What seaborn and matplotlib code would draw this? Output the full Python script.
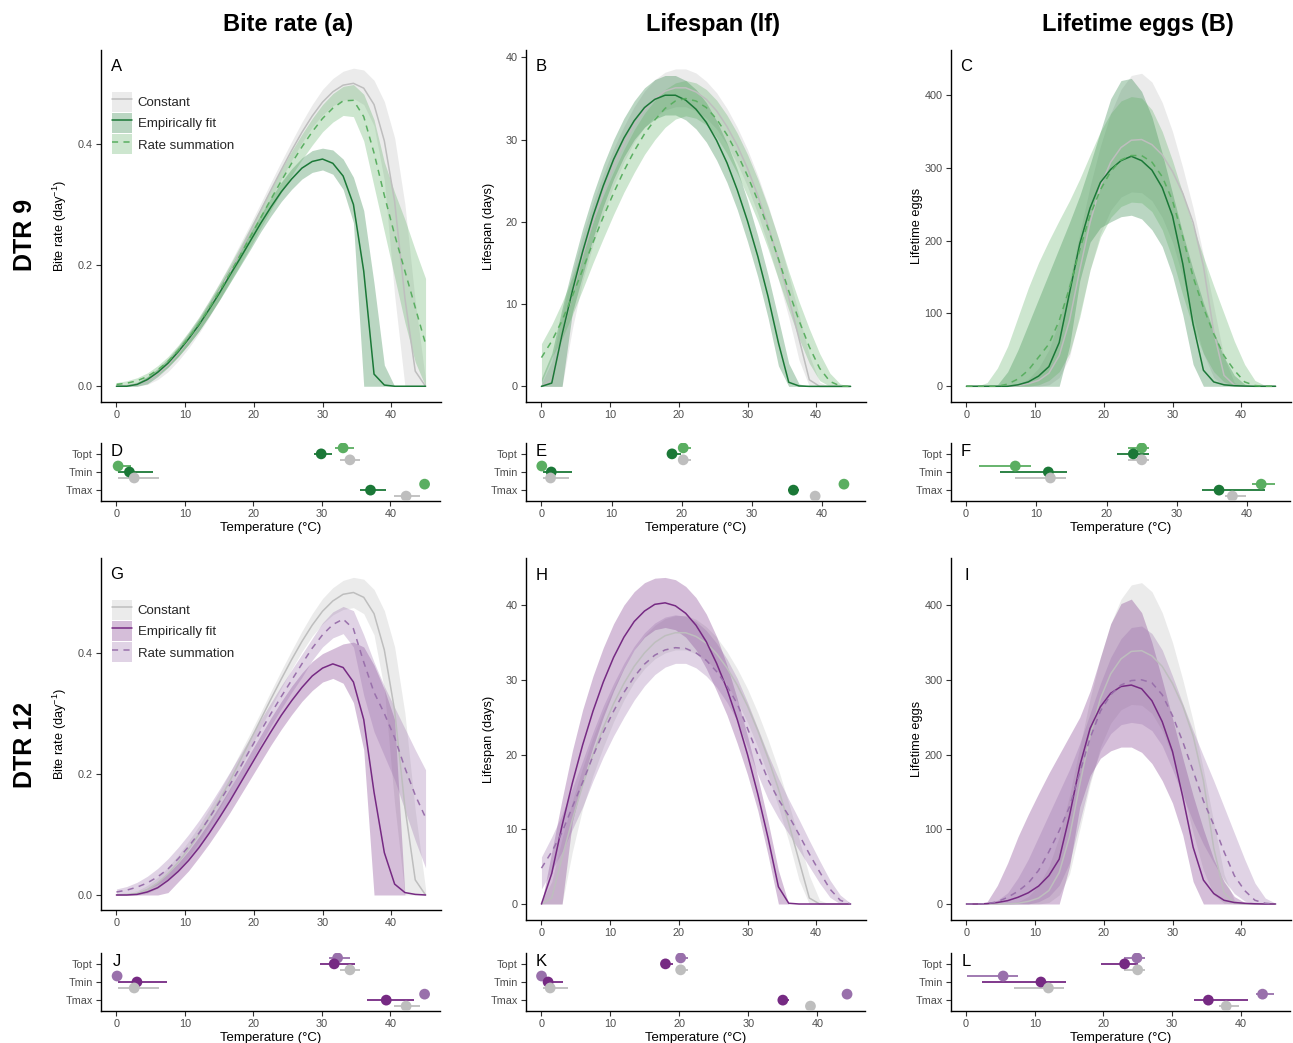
import numpy as np
import pandas as pd
import matplotlib
matplotlib.use("Agg")
import matplotlib.pyplot as plt
import matplotlib.transforms as mtransforms
from matplotlib.patches import Patch
from matplotlib.lines import Line2D
from matplotlib.legend_handler import HandlerTuple
import seaborn as sns

# ---------------- data ----------------
temps = [0, 1.5, 3, 4.5, 6, 7.5, 9, 10.5, 12, 13.5, 15, 16.5, 18, 19.5, 21, 22.5,
         24, 25.5, 27, 28.5, 30, 31.5, 33, 34.5, 36, 37.5, 39, 40.5, 42, 43.5, 45]

# Bite rate - constant temperature (shared by both DTR rows)
bite_const = [0, 0.001, 0.003, 0.009, 0.020, 0.035, 0.054, 0.076, 0.100, 0.128, 0.157, 0.188, 0.222, 0.256, 0.290, 0.324, 0.357, 0.389, 0.419, 0.446, 0.469, 0.486, 0.497, 0.500, 0.492, 0.465, 0.405, 0.305, 0.145, 0.025, 0.0]
bite_const_hi = [0.001, 0.003, 0.007, 0.016, 0.029, 0.046, 0.066, 0.089, 0.114, 0.142, 0.171, 0.202, 0.235, 0.268, 0.302, 0.337, 0.371, 0.404, 0.436, 0.465, 0.490, 0.508, 0.520, 0.525, 0.522, 0.505, 0.470, 0.410, 0.300, 0.140, 0.010]
bite_const_lo = [0, 0, 0, 0.003, 0.011, 0.024, 0.042, 0.063, 0.087, 0.114, 0.143, 0.174, 0.208, 0.242, 0.276, 0.310, 0.342, 0.373, 0.402, 0.428, 0.448, 0.463, 0.472, 0.475, 0.465, 0.430, 0.340, 0.150, 0, 0, 0]
# Bite rate DTR 9
bite_emp9 = [0, 0, 0.003, 0.011, 0.023, 0.038, 0.057, 0.078, 0.101, 0.127, 0.154, 0.183, 0.211, 0.240, 0.269, 0.296, 0.321, 0.342, 0.360, 0.371, 0.375, 0.368, 0.347, 0.300, 0.190, 0.020, 0.002, 0, 0, 0, 0]
bite_emp9_hi = [0.001, 0.002, 0.006, 0.016, 0.029, 0.045, 0.065, 0.087, 0.111, 0.138, 0.166, 0.195, 0.224, 0.254, 0.283, 0.311, 0.337, 0.359, 0.377, 0.389, 0.393, 0.390, 0.375, 0.345, 0.290, 0.170, 0.035, 0, 0, 0, 0]
bite_emp9_lo = [0, 0, 0, 0.004, 0.016, 0.031, 0.049, 0.069, 0.091, 0.116, 0.142, 0.170, 0.198, 0.226, 0.255, 0.281, 0.305, 0.325, 0.342, 0.353, 0.357, 0.350, 0.325, 0.270, 0, 0, 0, 0, 0, 0, 0]
bite_rs9 = [0.003, 0.005, 0.009, 0.016, 0.027, 0.041, 0.059, 0.080, 0.103, 0.129, 0.157, 0.186, 0.216, 0.247, 0.278, 0.309, 0.339, 0.368, 0.395, 0.420, 0.442, 0.459, 0.471, 0.472, 0.445, 0.385, 0.315, 0.250, 0.190, 0.130, 0.070]
bite_rs9_hi = [0.006, 0.009, 0.014, 0.022, 0.034, 0.049, 0.068, 0.090, 0.114, 0.141, 0.170, 0.200, 0.231, 0.263, 0.295, 0.327, 0.358, 0.388, 0.416, 0.442, 0.465, 0.483, 0.495, 0.498, 0.482, 0.440, 0.370, 0.320, 0.275, 0.225, 0.178]
bite_rs9_lo = [0.001, 0.002, 0.005, 0.010, 0.019, 0.032, 0.049, 0.069, 0.091, 0.116, 0.143, 0.171, 0.200, 0.230, 0.261, 0.291, 0.320, 0.348, 0.374, 0.398, 0.420, 0.436, 0.447, 0.445, 0.405, 0.330, 0.255, 0.180, 0.105, 0.040, 0.0]
# Bite rate DTR 12
bite_emp12 = [0, 0, 0.001, 0.005, 0.012, 0.024, 0.039, 0.057, 0.078, 0.102, 0.128, 0.155, 0.184, 0.213, 0.242, 0.270, 0.297, 0.321, 0.343, 0.362, 0.375, 0.382, 0.376, 0.352, 0.290, 0.170, 0.070, 0.018, 0.004, 0.001, 0]
bite_emp12_hi = [0.001, 0.002, 0.004, 0.011, 0.022, 0.036, 0.053, 0.073, 0.096, 0.121, 0.148, 0.176, 0.205, 0.235, 0.264, 0.293, 0.320, 0.345, 0.367, 0.386, 0.399, 0.407, 0.415, 0.418, 0.410, 0.380, 0.340, 0.290, 0, 0, 0]
bite_emp12_lo = [0, 0, 0, 0, 0, 0.004, 0.022, 0.040, 0.062, 0.085, 0.110, 0.136, 0.164, 0.192, 0.220, 0.248, 0.274, 0.298, 0.320, 0.338, 0.352, 0.358, 0.350, 0.318, 0.240, 0, 0, 0, 0, 0, 0]
bite_rs12 = [0.005, 0.008, 0.013, 0.020, 0.030, 0.043, 0.060, 0.080, 0.102, 0.127, 0.154, 0.182, 0.211, 0.241, 0.271, 0.300, 0.328, 0.355, 0.382, 0.408, 0.430, 0.447, 0.456, 0.440, 0.385, 0.335, 0.300, 0.260, 0.210, 0.165, 0.128]
bite_rs12_hi = [0.010, 0.014, 0.021, 0.031, 0.044, 0.060, 0.079, 0.100, 0.123, 0.148, 0.175, 0.203, 0.232, 0.261, 0.290, 0.318, 0.346, 0.372, 0.398, 0.424, 0.450, 0.468, 0.477, 0.470, 0.430, 0.385, 0.345, 0.310, 0.275, 0.240, 0.207]
bite_rs12_lo = [0.001, 0.003, 0.006, 0.010, 0.017, 0.027, 0.041, 0.058, 0.079, 0.103, 0.130, 0.158, 0.188, 0.218, 0.249, 0.280, 0.308, 0.335, 0.360, 0.388, 0.410, 0.425, 0.432, 0.410, 0.330, 0.270, 0.230, 0.190, 0.140, 0.090, 0.045]

# Lifespan - constant
life_const = [0, 0.8, 6.2, 11.3, 15.9, 20.0, 23.6, 26.8, 29.5, 31.8, 33.6, 35.0, 35.9, 36.3, 36.3, 35.8, 34.9, 33.5, 31.6, 29.3, 26.5, 23.2, 19.5, 15.4, 10.8, 5.8, 0.8, 0, 0, 0, 0]
life_const_hi = [0.3, 3.0, 8.8, 13.8, 18.3, 22.3, 25.8, 28.9, 31.6, 34.0, 35.9, 37.3, 38.2, 38.6, 38.6, 38.1, 37.1, 35.7, 33.8, 31.5, 28.8, 25.6, 22.0, 18.0, 13.5, 8.7, 3.8, 0.5, 0, 0, 0]
life_const_lo = [0, 0, 0, 7.0, 12.8, 17.2, 21.0, 24.4, 27.3, 29.7, 31.5, 32.8, 33.6, 34.0, 34.0, 33.5, 32.6, 31.3, 29.4, 27.1, 24.3, 21.0, 17.2, 13.0, 8.4, 3.2, 0, 0, 0, 0, 0]
# Lifespan DTR 9
life_emp9 = [0, 0.4, 6.3, 11.6, 16.4, 20.7, 24.4, 27.6, 30.2, 32.3, 33.9, 34.9, 35.4, 35.4, 34.8, 33.7, 32.1, 29.9, 27.2, 23.9, 20.1, 15.8, 10.9, 5.3, 0.5, 0.05, 0, 0, 0, 0, 0]
life_emp9_hi = [1.0, 4.0, 9.5, 14.5, 19.2, 23.3, 26.9, 30.0, 32.6, 34.7, 36.3, 37.3, 37.8, 37.8, 37.2, 36.1, 34.5, 32.3, 29.6, 26.4, 22.6, 18.3, 13.5, 8.2, 2.8, 0.3, 0, 0, 0, 0, 0]
life_emp9_lo = [0, 0, 0, 9.0, 13.5, 18.0, 21.9, 25.2, 27.9, 30.0, 31.5, 32.5, 33.0, 33.0, 32.4, 31.3, 29.7, 27.5, 24.8, 21.5, 17.6, 13.3, 8.3, 2.5, 0, 0, 0, 0, 0, 0, 0]
life_rs9 = [3.5, 5.5, 8.0, 11.0, 14.2, 17.5, 20.6, 23.5, 26.2, 28.6, 30.7, 32.4, 33.8, 34.7, 35.0, 34.7, 33.9, 32.5, 30.6, 28.3, 25.6, 22.6, 19.2, 15.5, 11.6, 8.0, 4.8, 2.2, 0.6, 0.05, 0]
life_rs9_hi = [5.2, 7.5, 10.2, 13.3, 16.6, 20.0, 23.2, 26.1, 28.8, 31.2, 33.2, 34.8, 36.1, 36.9, 37.2, 36.9, 36.1, 34.8, 33.0, 30.8, 28.2, 25.2, 21.8, 18.0, 14.0, 10.3, 7.0, 4.0, 1.6, 0.3, 0]
life_rs9_lo = [0.5, 3.5, 5.8, 8.7, 11.8, 15.0, 18.0, 20.9, 23.6, 26.0, 28.2, 30.0, 31.5, 32.5, 32.9, 32.6, 31.8, 30.3, 28.3, 25.9, 23.1, 20.1, 16.7, 13.0, 9.3, 5.8, 2.8, 0.7, 0, 0, 0]
# Lifespan DTR 12
life_emp12 = [0, 4.1, 10.5, 16.2, 21.3, 25.8, 29.7, 33.0, 35.7, 37.8, 39.2, 40.1, 40.3, 39.9, 38.9, 37.3, 35.1, 32.2, 28.8, 24.7, 20.0, 14.7, 8.8, 2.3, 0.1, 0, 0, 0, 0, 0, 0]
life_emp12_hi = [0, 7.0, 14.0, 20.5, 26.0, 30.5, 34.3, 37.5, 40.0, 41.8, 43.0, 43.6, 43.7, 43.4, 42.5, 41.0, 38.8, 35.8, 32.0, 27.5, 22.5, 17.0, 11.0, 4.5, 0, 0, 0, 0, 0, 0, 0]
life_emp12_lo = [0, 0, 0, 11.0, 16.5, 21.0, 25.0, 28.5, 31.5, 34.0, 35.7, 36.7, 37.0, 36.7, 35.7, 34.0, 31.5, 28.5, 25.3, 21.5, 17.3, 12.5, 6.5, 0, 0, 0, 0, 0, 0, 0, 0]
life_rs12 = [4.8, 7.0, 9.6, 13.0, 16.3, 19.8, 23.0, 25.8, 28.3, 30.4, 32.1, 33.3, 34.0, 34.3, 34.2, 33.6, 32.6, 31.1, 29.2, 26.8, 23.5, 20.0, 16.6, 14.0, 11.8, 9.3, 6.7, 4.3, 2.0, 0.5, 0]
life_rs12_hi = [6.3, 9.0, 12.0, 15.5, 19.2, 23.0, 26.5, 29.5, 32.2, 34.5, 36.3, 37.6, 38.4, 38.7, 38.5, 37.8, 36.6, 34.9, 32.8, 30.2, 27.0, 23.5, 20.0, 16.8, 14.0, 11.3, 8.5, 5.8, 3.2, 1.2, 0.1]
life_rs12_lo = [2.0, 4.5, 7.0, 10.0, 13.0, 16.5, 19.7, 22.5, 25.0, 27.3, 29.2, 30.7, 31.7, 32.2, 32.2, 31.6, 30.5, 29.0, 27.0, 24.5, 21.0, 17.3, 14.0, 11.5, 9.4, 7.2, 5.0, 2.8, 0.9, 0, 0]

# Lifetime eggs - constant
eggs_const = [0, 0, 0, 0, 0.2, 1, 3.5, 8, 18, 42, 90, 160, 225, 275, 308, 328, 338, 339, 332, 318, 295, 265, 225, 165, 75, 15, 1.5, 0, 0, 0, 0]
eggs_const_hi = [0, 0, 0, 0, 0, 3, 10, 25, 50, 90, 145, 210, 275, 330, 375, 408, 427, 430, 418, 390, 350, 300, 245, 180, 110, 40, 5, 0, 0, 0, 0]
eggs_const_lo = [0, 0, 0, 0, 0, 0, 0, 0, 2, 12, 40, 100, 160, 210, 242, 260, 267, 266, 255, 232, 198, 150, 95, 45, 12, 1, 0, 0, 0, 0, 0]
# Lifetime eggs DTR 9
eggs_emp9 = [0, 0, 0, 0, 0, 2, 6, 14, 27, 60, 128, 196, 245, 280, 298, 310, 316, 310, 297, 273, 234, 168, 85, 22, 6, 2, 0.8, 0.3, 0, 0, 0]
eggs_emp9_hi = [0, 0, 0, 2, 20, 50, 85, 120, 155, 190, 225, 262, 305, 350, 395, 420, 423, 405, 370, 320, 265, 210, 160, 115, 75, 40, 15, 3, 0, 0, 0]
eggs_emp9_lo = [0, 0, 0, 0, 0, 0, 0, 0, 0, 0, 55, 145, 198, 218, 226, 233, 235, 230, 215, 192, 152, 98, 30, 0, 0, 0, 0, 0, 0, 0, 0]
eggs_rs9 = [0, 0, 0, 0, 3, 10, 22, 40, 58, 90, 135, 188, 235, 270, 295, 311, 317, 317, 308, 288, 255, 205, 150, 108, 72, 42, 22, 6, 1, 0, 0]
eggs_rs9_hi = [0, 0, 5, 25, 55, 95, 135, 170, 200, 228, 255, 285, 318, 350, 375, 392, 398, 396, 380, 350, 310, 265, 220, 178, 138, 100, 62, 30, 8, 1, 0]
eggs_rs9_lo = [0, 0, 0, 0, 0, 0, 0, 2, 8, 20, 45, 95, 160, 205, 232, 247, 253, 252, 240, 215, 175, 125, 80, 45, 20, 6, 1, 0, 0, 0, 0]
# Lifetime eggs DTR 12
eggs_emp12 = [0, 0, 0.5, 2, 4.5, 9, 15, 24, 38, 60, 118, 185, 235, 264, 282, 291, 293, 288, 272, 244, 204, 143, 76, 32, 14, 5, 2, 1, 0.3, 0, 0]
eggs_emp12_hi = [0, 0, 3, 25, 55, 90, 120, 148, 175, 200, 225, 250, 285, 330, 375, 402, 408, 390, 350, 300, 248, 195, 145, 100, 60, 30, 10, 2, 0, 0, 0]
eggs_emp12_lo = [0, 0, 0, 0, 0, 0, 0, 0, 0, 0, 50, 130, 172, 195, 205, 210, 210, 203, 188, 165, 135, 92, 30, 0, 0, 0, 0, 0, 0, 0, 0]
eggs_rs12 = [0, 0, 0.5, 3, 9, 17, 28, 45, 70, 98, 130, 176, 222, 258, 280, 293, 299, 300, 296, 280, 252, 217, 178, 138, 106, 70, 38, 18, 5, 1, 0]
eggs_rs12_hi = [0, 0, 1, 5, 15, 35, 60, 90, 120, 150, 180, 215, 255, 295, 330, 355, 370, 372, 362, 340, 305, 268, 232, 198, 165, 130, 95, 60, 28, 8, 1]
eggs_rs12_lo = [0, 0, 0, 0, 0, 0, 0, 3, 10, 25, 55, 110, 165, 205, 228, 240, 243, 241, 232, 212, 180, 145, 110, 80, 55, 32, 14, 4, 0.5, 0, 0]

# Thermal parameters (order: Topt, Tmin, Tmax)
params = ["Topt", "Tmin", "Tmax"]
bite_p_const = [34.1, 2.6, 42.3]; bite_p_const_lo = [32.7, 0.2, 40.5]; bite_p_const_hi = [35.6, 6.2, 44.3]
bite_p_emp9 = [29.9, 1.9, 37.1]; bite_p_emp9_lo = [28.9, 0.2, 35.5]; bite_p_emp9_hi = [31.5, 5.4, 39.4]
bite_p_rs9 = [33.1, 0.25, 45.0]; bite_p_rs9_lo = [31.9, 0.0, 44.9]; bite_p_rs9_hi = [34.7, 2.1, 45.0]
bite_p_emp12 = [31.8, 3.0, 39.4]; bite_p_emp12_lo = [29.8, 0.2, 36.6]; bite_p_emp12_hi = [34.9, 7.4, 43.4]
bite_p_rs12 = [32.3, 0.1, 45.0]; bite_p_rs12_lo = [31.0, 0.1, 45.0]; bite_p_rs12_hi = [34.1, 0.1, 45.0]

life_p_const = [20.2, 1.3, 39.0]; life_p_const_lo = [19.5, 0.2, 38.5]; life_p_const_hi = [21.3, 3.9, 39.7]
life_p_emp9 = [18.6, 1.4, 35.9]; life_p_emp9_lo = [17.9, 0.2, 35.1]; life_p_emp9_hi = [19.9, 4.3, 36.7]
life_p_rs9 = [20.2, 0.05, 43.1]; life_p_rs9_lo = [19.6, 0.05, 42.7]; life_p_rs9_hi = [21.3, 0.05, 43.5]
life_p_emp12 = [18.0, 1.0, 35.0]; life_p_emp12_lo = [17.3, 0.2, 34.3]; life_p_emp12_hi = [19.1, 3.2, 35.9]
life_p_rs12 = [20.2, 0.05, 44.3]; life_p_rs12_lo = [19.7, 0.05, 44.0]; life_p_rs12_hi = [21.2, 0.05, 44.6]

eggs_p_const = [25.0, 12.0, 37.9]; eggs_p_const_lo = [23.0, 7.0, 36.8]; eggs_p_const_hi = [26.1, 14.2, 39.8]
eggs_p_emp9 = [23.8, 11.7, 36.0]; eggs_p_emp9_lo = [21.5, 4.8, 33.6]; eggs_p_emp9_hi = [26.1, 14.4, 42.6]
eggs_p_rs9 = [25.0, 7.0, 42.0]; eggs_p_rs9_lo = [23.0, 1.8, 40.7]; eggs_p_rs9_hi = [26.1, 9.2, 44.0]
eggs_p_emp12 = [23.1, 10.9, 35.3]; eggs_p_emp12_lo = [19.7, 2.3, 33.2]; eggs_p_emp12_hi = [25.0, 14.5, 41.1]
eggs_p_rs12 = [24.9, 5.4, 43.2]; eggs_p_rs12_lo = [23.0, 0.2, 42.3]; eggs_p_rs12_hi = [26.0, 7.5, 44.9]

col_titles = ["Bite rate (a)", "Lifespan (lf)", "Lifetime eggs (B)"]
row_titles = ["DTR 9", "DTR 12"]
legend_labels = ["Constant", "Empirically fit", "Rate summation"]

# ---------------- style ----------------
sns.set_theme(style="ticks")
plt.rcParams['font.family'] = ['Liberation Sans', 'DejaVu Sans']
plt.rcParams['mathtext.fontset'] = 'custom'
plt.rcParams['mathtext.rm'] = 'Liberation Sans'
plt.rcParams['mathtext.it'] = 'Liberation Sans:italic'

GRAY = "#bebebe"
GREEN_D, GREEN_L = "#1b7837", "#5aae61"
PURP_D, PURP_L = "#762a83", "#9970ab"
TICK_C = "#4d4d4d"
W, H = 1293, 1043


def rect(l, t, r, b):
    return [l / W, 1 - b / H, (r - l) / W, (b - t) / H]


fig = plt.figure(figsize=(W / 100, H / 100), dpi=100)


def style_ax(ax):
    for s in ["top", "right"]:
        ax.spines[s].set_visible(False)
    for s in ["left", "bottom"]:
        ax.spines[s].set_color("black")
        ax.spines[s].set_linewidth(1.0)
    ax.tick_params(axis="both", colors="#333333", labelcolor=TICK_C,
                   labelsize=7.8, length=3.5, width=0.8, pad=2.5)
    ax.grid(False)


def letter(ax, txt, yfrac):
    tr = mtransforms.blended_transform_factory(ax.transData, ax.transAxes)
    ax.text(0, yfrac, txt, transform=tr, ha="center", va="center",
            fontsize=12, color="black")


def main_panel(ax, series, ylim, yticks, ylabels, ylab, lab, lab_x):
    for mean, lo, hi, col, ls in series:
        ax.fill_between(temps, lo, hi, color=col, alpha=0.3, linewidth=0, zorder=1)
    for mean, lo, hi, col, ls in series:
        sns.lineplot(x=temps, y=mean, color=col, linewidth=1.1, linestyle=ls,
                     ax=ax, legend=False, zorder=3)
    ax.set_xlim(-2.25, 47.25)
    ax.set_ylim(*ylim)
    ax.set_xticks([0, 10, 20, 30, 40])
    ax.set_yticks(yticks)
    ax.set_yticklabels(ylabels)
    ax.set_xlabel("")
    ax.set_ylabel(ylab, fontsize=9.2, color="black")
    ax.yaxis.set_label_coords(lab_x, 0.5)
    style_ax(ax)
    letter(ax, lab, 0.953)


def param_panel(ax, models, xlim, lab):
    offsets = [0.33, 0.0, -0.33]
    base = [3, 2, 1]
    for (est, lo, hi, col), off in zip(models, offsets):
        ys = [b + off for b in base]
        ax.hlines(ys, lo, hi, color=col, linewidth=1.3, zorder=2)
        sns.scatterplot(x=est, y=ys, color=col, s=60, edgecolor="none",
                        ax=ax, legend=False, zorder=3)
    ax.set_xlim(*xlim)
    ax.set_ylim(0.4, 3.6)
    ax.set_yticks(base)
    ax.set_yticklabels(params)
    ax.set_xticks([0, 10, 20, 30, 40])
    ax.set_ylabel("")
    ax.set_xlabel("Temperature (\u00b0C)", fontsize=9.5, color="black")
    ax.xaxis.set_label_coords(0.5, -0.37)
    style_ax(ax)
    letter(ax, lab, 0.85)


def add_legend(ax, cols, ls_list):
    handles = []
    for c, ls in zip(cols, ls_list):
        handles.append((Patch(facecolor=c, alpha=0.3, edgecolor="none"),
                        Line2D([], [], color=c, linewidth=1.1, linestyle=ls)))
    ax.legend(handles, legend_labels, handler_map={tuple: HandlerTuple(ndivide=1)},
              loc="upper left", bbox_to_anchor=(0.032, 0.881), frameon=False,
              fontsize=9.5, handlelength=1.5, handleheight=1.95, labelspacing=0.1,
              handletextpad=0.45, borderpad=0, borderaxespad=0)


DASH = (0, (4, 3.5))

rows = [
    dict(dark=GREEN_D, light=GREEN_L,
         main_tops=[(50, 402), (50, 402), (50, 402)], small=(443, 501),
         bite=(bite_emp9, bite_emp9_lo, bite_emp9_hi, bite_rs9, bite_rs9_lo, bite_rs9_hi),
         life=(life_emp9, life_emp9_lo, life_emp9_hi, life_rs9, life_rs9_lo, life_rs9_hi),
         eggs=(eggs_emp9, eggs_emp9_lo, eggs_emp9_hi, eggs_rs9, eggs_rs9_lo, eggs_rs9_hi),
         pb=(bite_p_emp9, bite_p_emp9_lo, bite_p_emp9_hi, bite_p_rs9, bite_p_rs9_lo, bite_p_rs9_hi),
         pl=(life_p_emp9, life_p_emp9_lo, life_p_emp9_hi, life_p_rs9, life_p_rs9_lo, life_p_rs9_hi),
         pe=(eggs_p_emp9, eggs_p_emp9_lo, eggs_p_emp9_hi, eggs_p_rs9, eggs_p_rs9_lo, eggs_p_rs9_hi),
         ylims=[(-0.026, 0.555), (-1.9, 40.9), (-21.6, 462)],
         xl=[(-2.25, 47.25), (-2.2, 46.1), (-2.15, 46.1)],
         letters="ABCDEF"),
    dict(dark=PURP_D, light=PURP_L,
         main_tops=[(558, 910), (558, 920), (558, 920)], small=(953, 1011),
         bite=(bite_emp12, bite_emp12_lo, bite_emp12_hi, bite_rs12, bite_rs12_lo, bite_rs12_hi),
         life=(life_emp12, life_emp12_lo, life_emp12_hi, life_rs12, life_rs12_lo, life_rs12_hi),
         eggs=(eggs_emp12, eggs_emp12_lo, eggs_emp12_hi, eggs_rs12, eggs_rs12_lo, eggs_rs12_hi),
         pb=(bite_p_emp12, bite_p_emp12_lo, bite_p_emp12_hi, bite_p_rs12, bite_p_rs12_lo, bite_p_rs12_hi),
         pl=(life_p_emp12, life_p_emp12_lo, life_p_emp12_hi, life_p_rs12, life_p_rs12_lo, life_p_rs12_hi),
         pe=(eggs_p_emp12, eggs_p_emp12_lo, eggs_p_emp12_hi, eggs_p_rs12, eggs_p_rs12_lo, eggs_p_rs12_hi),
         ylims=[(-0.0248, 0.557), (-2.14, 46.3), (-21.4, 463)],
         xl=[(-2.25, 47.25), (-2.2, 46.9), (-2.2, 47.2)],
         letters="GHIJKL"),
]

col_lr = [(101, 441), (526, 866), (951, 1291)]
consts = [(bite_const, bite_const_lo, bite_const_hi),
          (life_const, life_const_lo, life_const_hi),
          (eggs_const, eggs_const_lo, eggs_const_hi)]
pconsts = [(bite_p_const, bite_p_const_lo, bite_p_const_hi),
           (life_p_const, life_p_const_lo, life_p_const_hi),
           (eggs_p_const, eggs_p_const_lo, eggs_p_const_hi)]
ylabs = ["Bite rate (day$^{-1}$)", "Lifespan (days)", "Lifetime eggs"]
ylab_x = [-0.094, -0.091, -0.083]
yt = [([0, 0.2, 0.4], ["0.0", "0.2", "0.4"]),
      ([0, 10, 20, 30, 40], ["0", "10", "20", "30", "40"]),
      ([0, 100, 200, 300, 400], ["0", "100", "200", "300", "400"])]

for r in rows:
    for j, key in enumerate(["bite", "life", "eggs"]):
        l, rr = col_lr[j]
        t, b = r["main_tops"][j]
        ax = fig.add_axes(rect(l, t, rr, b))
        em, elo, ehi, rm, rlo, rhi = r[key]
        cm, clo, chi = consts[j]
        series = [(cm, clo, chi, GRAY, "-"),
                  (em, elo, ehi, r["dark"], "-"),
                  (rm, rlo, rhi, r["light"], DASH)]
        main_panel(ax, series, r["ylims"][j], yt[j][0], yt[j][1], ylabs[j],
                   r["letters"][j], ylab_x[j])
        if j == 0:
            add_legend(ax, [GRAY, r["dark"], r["light"]], ["-", "-", DASH])
        # parameter panel
        st, sb = r["small"]
        axs = fig.add_axes(rect(l, st, rr - 1, sb))
        pe_, pelo, pehi, pr, prlo, prhi = r[["pb", "pl", "pe"][j]]
        pc, pclo, pchi = pconsts[j]
        models = [(pr, prlo, prhi, r["light"]),
                  (pe_, pelo, pehi, r["dark"]),
                  (pc, pclo, pchi, GRAY)]
        param_panel(axs, models, r["xl"][j], r["letters"][3 + j])

for x, t in zip([288, 713, 1138], col_titles):
    fig.text(x / W, 1 - 25 / H, t, ha="center", va="center", fontsize=17,
             fontweight="bold", color="black")
for y, t in zip([235, 745], row_titles):
    fig.text(25 / W, 1 - y / H, t, ha="center", va="center", fontsize=18,
             fontweight="bold", rotation=90, color="black")

fig.savefig("out.png", dpi=100, facecolor="white")
